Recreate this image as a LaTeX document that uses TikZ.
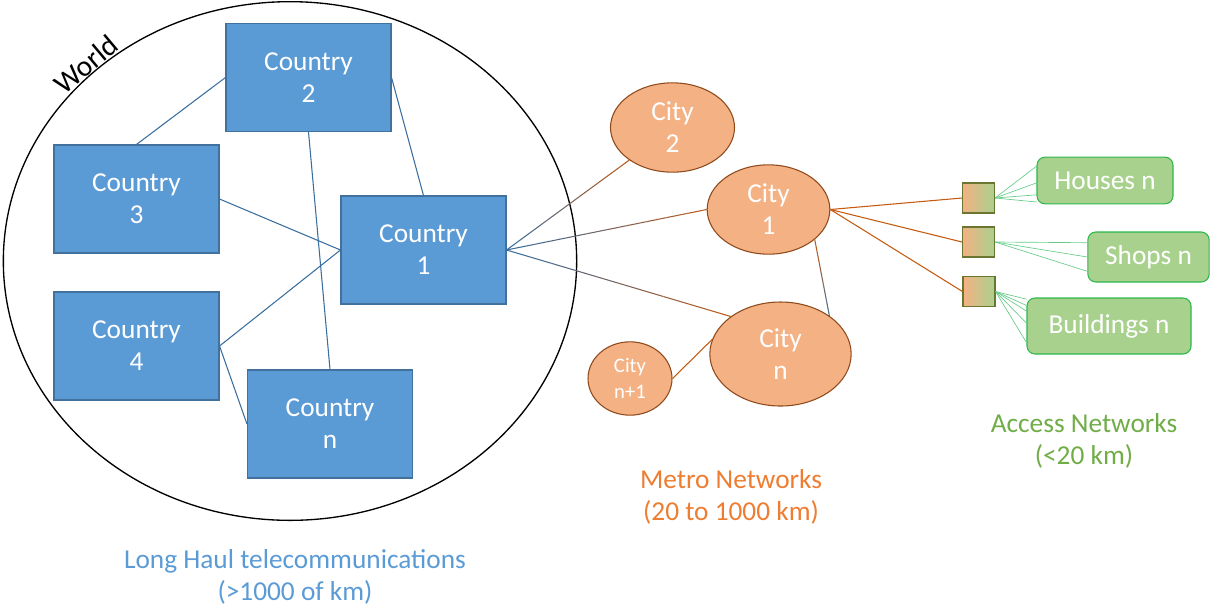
\documentclass[tikz,border=0pt]{standalone}
\usepackage{fontspec}
\setmainfont{Carlito}
\usetikzlibrary{shapes.geometric, calc}

\definecolor{countryfill}{HTML}{5B9BD5}
\definecolor{countryborder}{HTML}{41719C}
\definecolor{longline}{HTML}{3B6E9E}
\definecolor{cityfill}{HTML}{F4B183}
\definecolor{cityborder}{HTML}{8F4A1C}
\definecolor{metroline}{HTML}{C55A11}
\definecolor{accessfill}{HTML}{A9D18E}
\definecolor{accessborder}{HTML}{2DB84C}
\definecolor{accessline}{HTML}{66CC88}
\definecolor{metrotext}{HTML}{ED7D31}
\definecolor{accesstext}{HTML}{70AD47}

\tikzset{
  country/.style={rectangle, fill=countryfill, draw=countryborder, thick, text=white,
    align=center, minimum width=123.75pt, minimum height=81pt, inner sep=0pt,
    font=\fontsize{20.5}{24}\selectfont},
  city/.style={ellipse, fill=cityfill, draw=cityborder, thick, text=white,
    align=center, inner sep=0pt, font=\fontsize{20.5}{24}\selectfont},
  tap/.style={rectangle, left color=cityfill, right color=accessfill, draw=cityborder!60!accessborder,
    thick, minimum width=24pt, minimum height=22.5pt, inner sep=0pt},
  access/.style={rectangle, rounded corners=6pt, fill=accessfill, draw=accessborder, thick,
    text=white, inner sep=0pt, font=\fontsize{20.5}{24}\selectfont},
  longedge/.style={draw=longline, line width=0.8pt},
  metroedge/.style={draw=metroline, line width=0.8pt},
  accessedge/.style={draw=accessline, line width=0.5pt},
  caption/.style={align=center, font=\fontsize{20.5}{24}\selectfont}
}

\begin{document}
\begin{tikzpicture}[x=0.75pt, y=-0.75pt]
    \useasboundingbox (0,0) rectangle (1212,608);

    % World
    \node[ellipse, draw, line width=1pt, minimum width=430pt, minimum height=389pt, inner sep=0pt, outer sep=0pt] (world) at (290,261) {};
    \node[rotate=40, font=\fontsize{22}{26}\selectfont] (worldlabel) at (86,64) {World};

    % Countries
    \node[country] (c2) at (308.5,77.5) {Country\\2};
    \node[country] (c3) at (136.5,199) {Country\\3};
    \node[country] (c1) at (423.5,250) {Country\\1};
    \node[country] (c4) at (136.5,346) {Country\\4};
    \node[country] (cn) at (330,424) {Country\\n};

    \draw[longedge] (c3.north) -- (c2.west);
    \draw[longedge] (c2.east) -- (c1.north);
    \draw[longedge] (c2.south) -- (cn.north);
    \draw[longedge] (c3.east) -- (c1.west);
    \draw[longedge] (c4.east) -- (c1.west);
    \draw[longedge] (c4.east) -- (cn.west);

    % Cities
    \node[city, minimum width=93pt, minimum height=67pt] (city2) at (672.5,127.5) {City\\2};
    \node[city, minimum width=92pt, minimum height=67pt] (city1) at (768.5,209.5) {City\\1};
    \node[city, minimum width=106pt, minimum height=78pt] (cityn) at (780.5,354) {City\\n};
    \node[city, minimum width=63pt, minimum height=55pt, font=\fontsize{15.5}{20}\selectfont] (citynp) at (630,378.5) {City\\n+1};

    % long haul to metro, blue fading into orange
    \foreach \e in {city2.217, city1.west, cityn.143}
      \foreach \i in {0,...,9}
        \draw[line width=0.8pt, draw=metroline!\i0!longline] ($(c1.east)!\i/10!(\e)$) -- ($(c1.east)!\i/10+0.1!(\e)$);
    \foreach \i in {0,...,9}
      \draw[line width=0.8pt, draw=longline!\i0!metroline] ($(city1.-33)!\i/10!(cityn.38)$) -- ($(city1.-33)!\i/10+0.1!(cityn.38)$);
    \draw[metroedge] (citynp.east) -- (cityn.168);

    % Access taps
    \node[tap] (sq1) at (978.5,198) {};
    \node[tap] (sq2) at (978.5,242) {};
    \node[tap] (sq3) at (979,291.5) {};

    \draw[metroedge] (city1.east) -- (sq1.west);
    \draw[metroedge] (city1.east) -- (sq2.west);
    \draw[metroedge] (city1.east) -- (sq3.west);

    % Access nodes
    \node[access, minimum width=102pt, minimum height=35pt] (houses) at (1105,180.5) {Houses n};
    \node[access, minimum width=91pt, minimum height=37.5pt] (shops) at (1148.5,257) {Shops n};
    \node[access, minimum width=123pt, minimum height=42pt] (buildings) at (1109,326) {Buildings n};

    \foreach \f in {0.2,0.55,0.8,0.95}
      \draw[accessedge] (sq1.east) -- ($(houses.north west)!\f!(houses.south west)$);
    \foreach \f in {0.22,0.5,0.78}
      \draw[accessedge] (sq2.east) -- ($(shops.north west)!\f!(shops.south west)$);
    \foreach \f in {0.03,0.14,0.24,0.45,0.79}
      \draw[accessedge] (sq3.east) -- ($(buildings.north west)!\f!(buildings.south west)$);

    % Captions
    \node[caption, text=countryfill] (longhaul) at (295,577) {Long Haul telecommunications\\(>1000 of km)};
    \node[caption, text=metrotext] (metro) at (731,497) {Metro Networks\\(20 to 1000 km)};
    \node[caption, text=accesstext] (accesscap) at (1084,441) {Access Networks\\(<20 km)};
\end{tikzpicture}
\end{document}
